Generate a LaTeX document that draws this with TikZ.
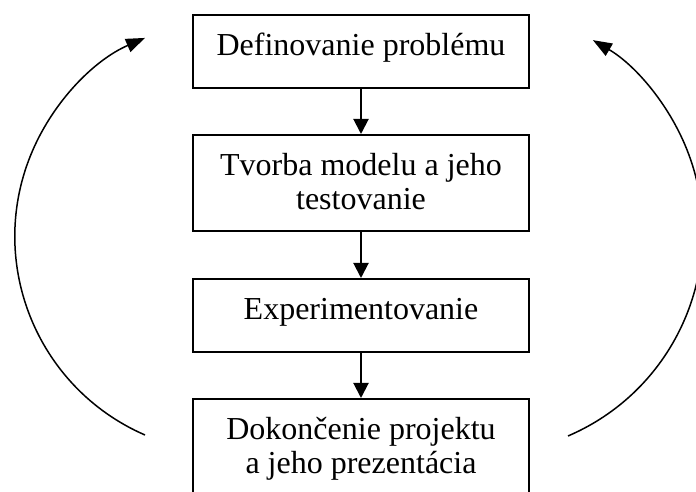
\documentclass[tikz,border=0pt]{standalone}
\usepackage{fontspec}
\setmainfont{Liberation Serif}
\usetikzlibrary{arrows.meta}
\newcommand{\boxtxt}[2]{\parbox[c][#1][t]{336pt}{\centering\rule{0pt}{41pt}#2}}
\tikzset{
  stepbox/.style={draw, line width=1.8pt, inner sep=0pt, anchor=north,
    font=\fontsize{32pt}{34pt}\selectfont},
  flow/.style={line width=2pt, -{Triangle[length=15pt,width=15pt]}},
  loop/.style={line width=1.5pt, -{Triangle[length=19pt,width=14pt]}}
}
\begin{document}
\begin{tikzpicture}[x=1pt,y=1pt]
\clip (0,0) rectangle (696,492);
\fill[white] (0,0) rectangle (696,492);
\node[stepbox] (b1) at (361,478) {\boxtxt{73pt}{Definovanie problému}};
\node[stepbox] (b2) at (361,358) {\boxtxt{96pt}{Tvorba modelu a jeho\\testovanie}};
\node[stepbox] (b3) at (361,214) {\boxtxt{73pt}{Experimentovanie}};
\node[stepbox] (b4) at (361,94) {\boxtxt{96pt}{Dokončenie projektu\\a jeho prezentácia}};
\draw[flow] (b1) -- (b2);
\draw[flow] (b2) -- (b3);
\draw[flow] (b3) -- (b4);
\coordinate (ls) at (145,57);
\coordinate (rs) at (568,56);
\draw[loop] (ls) arc[start angle=246.5, end angle=113.5, radius=216.5pt];
\draw[loop] (rs) arc[start angle=-66.8, end angle=59.6, radius=222.2pt];
\end{tikzpicture}
\end{document}
